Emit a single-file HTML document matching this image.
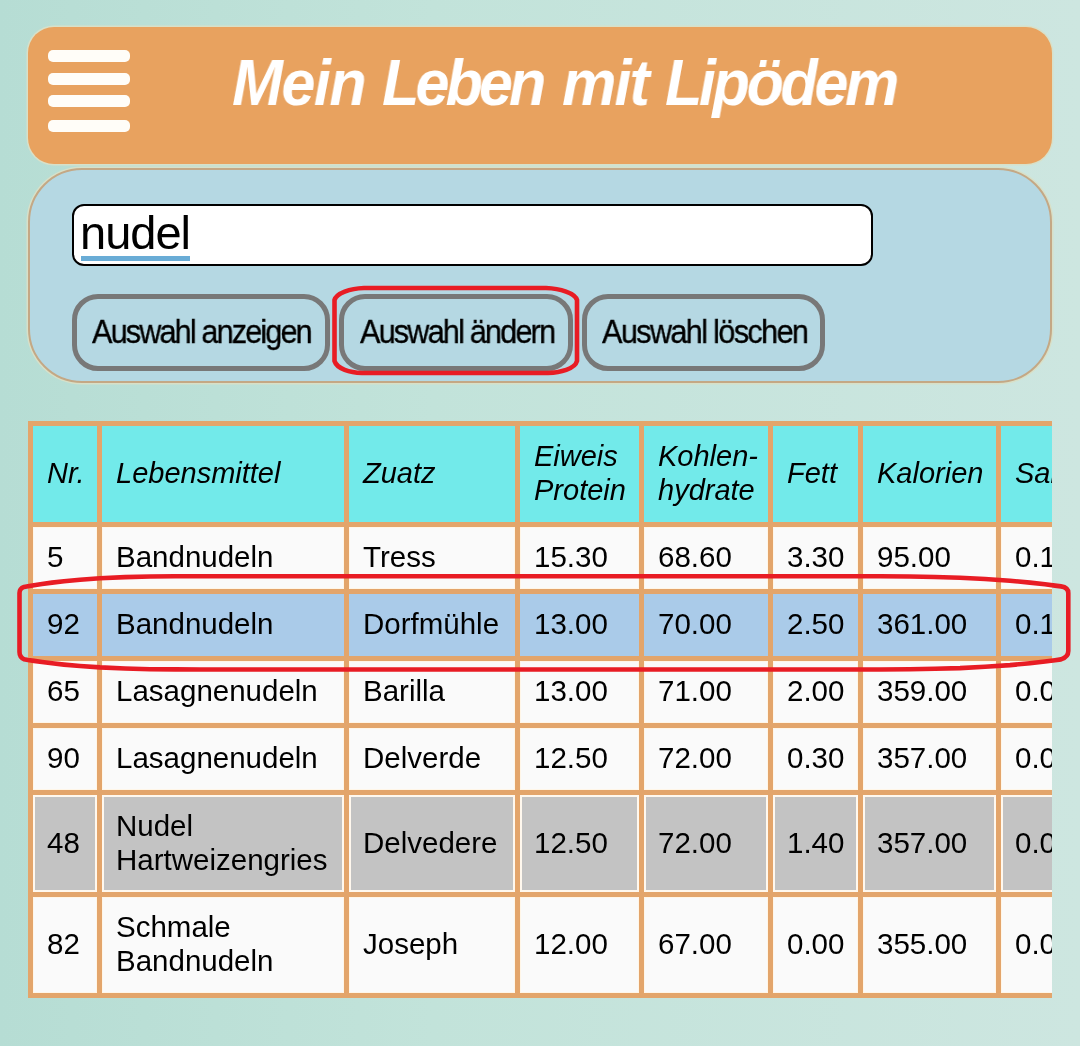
<!DOCTYPE html>
<html><head><meta charset="utf-8">
<style>
html,body{margin:0;padding:0;}
body{width:1080px;height:1046px;overflow:hidden;position:relative;
 background:linear-gradient(90deg,#b6ddd4 0%,#c2e3da 40%,#cde6e0 100%);
 font-family:"Liberation Sans",sans-serif;}
.abs{position:absolute;}
#hdr{left:28px;top:27px;width:1024px;height:137px;border-radius:26px;background:#e8a25f;box-shadow:0 0 0 1.5px #d8e0c8;}
.bar{position:absolute;left:20px;width:82px;height:12px;border-radius:5px;background:#fffdf8;}
.tw{position:absolute;top:33px;color:#fff;font-weight:bold;font-style:italic;font-size:65px;line-height:100px;white-space:nowrap;transform:scaleX(0.94);transform-origin:0 0;}
#panel{left:28px;top:168px;width:1020px;height:211px;border:2px solid #c4a885;border-radius:54px;background:#b5d8e3;box-shadow:0 0 0 1.5px #d8e0c8;}
#inp{left:72px;top:204px;width:797px;height:58px;border:2px solid #000;border-radius:12px;background:#fff;}
#nudel{position:absolute;left:80px;top:203px;font-size:47px;letter-spacing:-1px;line-height:60px;color:#000;white-space:nowrap;}
#ul{left:81px;top:256px;width:109px;height:5px;background:#69acd6;}
.btn{position:absolute;top:294px;height:67px;border:5px solid #787878;border-radius:26px;background:#b5d8e3;box-sizing:content-box;}
.btxt{position:absolute;top:306px;font-size:34px;line-height:50px;color:#000;white-space:nowrap;letter-spacing:-2.05px;transform:scaleX(0.9);transform-origin:0 0;-webkit-text-stroke:0.35px #000;}
#tbl{left:28px;top:421px;width:1024px;height:577px;background:#e3a56b;overflow:hidden;}
.c{position:absolute;padding-bottom:2px;background:#fafafa;box-sizing:border-box;padding-left:14px;font-size:29.5px;line-height:34px;color:#000;display:flex;align-items:center;white-space:nowrap;}
.w{box-shadow:inset 0 0 0 1px #fff6e8;}
.h{background:#72eaea;font-style:italic;font-size:29px;}
.sel{background:#aacbe9;}
.gr{background:#c3c3c3;border:2px solid #fff8ee;padding-left:12px;}
.c,.btxt,#nudel,.tw{will-change:transform;}
</style></head><body>
<div id="hdr" class="abs">
 <div class="bar" style="top:23px"></div>
 <div class="bar" style="top:45.5px"></div>
 <div class="bar" style="top:68px"></div>
 <div class="bar" style="top:93px"></div>
 </div>
<div class="tw" style="left:232px;letter-spacing:-1.6px">Mein</div>
<div class="tw" style="left:381.7px;letter-spacing:-4.15px">Leben</div>
<div class="tw" style="left:562px;letter-spacing:-2.05px">mit</div>
<div class="tw" style="left:664.7px;letter-spacing:-3.6px">Lipödem</div>
<div id="panel" class="abs"></div>
<div id="inp" class="abs"></div>
<div id="nudel">nudel</div>
<div id="ul" class="abs"></div>
<div class="btn" style="left:72px;width:248px;"></div>
<div class="btxt" style="left:92px;">Auswahl anzeigen</div>
<div class="btn" style="left:339px;width:224px;"></div>
<div class="btxt" style="left:360px;letter-spacing:-2px">Auswahl ändern</div>
<div class="btn" style="left:582px;width:233px;"></div>
<div class="btxt" style="left:602px;letter-spacing:-1.8px">Auswahl löschen</div>
<div id="tbl" class="abs">
<div class="c h" style="left:5px;top:5px;width:64px;height:96px">Nr.</div>
<div class="c h" style="left:74px;top:5px;width:242px;height:96px">Lebensmittel</div>
<div class="c h" style="left:321px;top:5px;width:166px;height:96px">Zuatz</div>
<div class="c h" style="left:492px;top:5px;width:119px;height:96px">Eiweis<br>Protein</div>
<div class="c h" style="left:616px;top:5px;width:124px;height:96px">Kohlen-<br>hydrate</div>
<div class="c h" style="left:745px;top:5px;width:85px;height:96px">Fett</div>
<div class="c h" style="left:835px;top:5px;width:133px;height:96px">Kalorien</div>
<div class="c h" style="left:973px;top:5px;width:199px;height:96px">Salz</div>
<div class="c w" style="left:5px;top:106px;width:64px;height:62px">5</div>
<div class="c w" style="left:74px;top:106px;width:242px;height:62px">Bandnudeln</div>
<div class="c w" style="left:321px;top:106px;width:166px;height:62px">Tress</div>
<div class="c w" style="left:492px;top:106px;width:119px;height:62px">15.30</div>
<div class="c w" style="left:616px;top:106px;width:124px;height:62px">68.60</div>
<div class="c w" style="left:745px;top:106px;width:85px;height:62px">3.30</div>
<div class="c w" style="left:835px;top:106px;width:133px;height:62px">95.00</div>
<div class="c w" style="left:973px;top:106px;width:199px;height:62px">0.10</div>
<div class="c sel" style="left:5px;top:173px;width:64px;height:62px">92</div>
<div class="c sel" style="left:74px;top:173px;width:242px;height:62px">Bandnudeln</div>
<div class="c sel" style="left:321px;top:173px;width:166px;height:62px">Dorfmühle</div>
<div class="c sel" style="left:492px;top:173px;width:119px;height:62px">13.00</div>
<div class="c sel" style="left:616px;top:173px;width:124px;height:62px">70.00</div>
<div class="c sel" style="left:745px;top:173px;width:85px;height:62px">2.50</div>
<div class="c sel" style="left:835px;top:173px;width:133px;height:62px">361.00</div>
<div class="c sel" style="left:973px;top:173px;width:199px;height:62px">0.10</div>
<div class="c w" style="left:5px;top:240px;width:64px;height:62px">65</div>
<div class="c w" style="left:74px;top:240px;width:242px;height:62px">Lasagnenudeln</div>
<div class="c w" style="left:321px;top:240px;width:166px;height:62px">Barilla</div>
<div class="c w" style="left:492px;top:240px;width:119px;height:62px">13.00</div>
<div class="c w" style="left:616px;top:240px;width:124px;height:62px">71.00</div>
<div class="c w" style="left:745px;top:240px;width:85px;height:62px">2.00</div>
<div class="c w" style="left:835px;top:240px;width:133px;height:62px">359.00</div>
<div class="c w" style="left:973px;top:240px;width:199px;height:62px">0.01</div>
<div class="c w" style="left:5px;top:307px;width:64px;height:62px">90</div>
<div class="c w" style="left:74px;top:307px;width:242px;height:62px">Lasagnenudeln</div>
<div class="c w" style="left:321px;top:307px;width:166px;height:62px">Delverde</div>
<div class="c w" style="left:492px;top:307px;width:119px;height:62px">12.50</div>
<div class="c w" style="left:616px;top:307px;width:124px;height:62px">72.00</div>
<div class="c w" style="left:745px;top:307px;width:85px;height:62px">0.30</div>
<div class="c w" style="left:835px;top:307px;width:133px;height:62px">357.00</div>
<div class="c w" style="left:973px;top:307px;width:199px;height:62px">0.01</div>
<div class="c gr" style="left:5px;top:374px;width:64px;height:97px">48</div>
<div class="c gr" style="left:74px;top:374px;width:242px;height:97px">Nudel<br>Hartweizengries</div>
<div class="c gr" style="left:321px;top:374px;width:166px;height:97px">Delvedere</div>
<div class="c gr" style="left:492px;top:374px;width:119px;height:97px">12.50</div>
<div class="c gr" style="left:616px;top:374px;width:124px;height:97px">72.00</div>
<div class="c gr" style="left:745px;top:374px;width:85px;height:97px">1.40</div>
<div class="c gr" style="left:835px;top:374px;width:133px;height:97px">357.00</div>
<div class="c gr" style="left:973px;top:374px;width:199px;height:97px">0.01</div>
<div class="c w" style="left:5px;top:476px;width:64px;height:96px">82</div>
<div class="c w" style="left:74px;top:476px;width:242px;height:96px">Schmale<br>Bandnudeln</div>
<div class="c w" style="left:321px;top:476px;width:166px;height:96px">Joseph</div>
<div class="c w" style="left:492px;top:476px;width:119px;height:96px">12.00</div>
<div class="c w" style="left:616px;top:476px;width:124px;height:96px">67.00</div>
<div class="c w" style="left:745px;top:476px;width:85px;height:96px">0.00</div>
<div class="c w" style="left:835px;top:476px;width:133px;height:96px">355.00</div>
<div class="c w" style="left:973px;top:476px;width:199px;height:96px">0.01</div>
</div>
<svg class="abs" style="left:0;top:0" width="1080" height="1046">
<g fill="none" stroke="#e81c24" stroke-width="4.6" stroke-linejoin="round">
<path d="M364 288 L546 288 C560 288.5 575 293 577 300 L577 361 C575 369 560 372.5 548 373 L362 373 C350 372.5 337 369 334.5 361 L334.5 300 C336.5 293 350 288.5 364 288 Z"/>
<path d="M19.5 652 L19.5 593 Q19.5 588.5 24 586.9 L28 586.2 L34 585.2 L42 584.0 L52 582.6 L64 581.2 L80 579.7 L100 578.2 L125 577.1 L150 576.5 L175 576.3 L200 576.3 L850 576.3 L880 576.3 L910 576.5 L935 577.0 L960 577.7 L985 579.0 L1010 580.7 L1030 582.6 L1045 584.3 L1055 585.6 L1061 586.4 Q1068.3 587.5 1068.3 593 L1068.3 651 Q1068.3 657 1061 659.4 L1055 660.2 L1045 661.5 L1030 663.2 L1010 665.1 L985 666.8 L960 668.1 L935 668.8 L910 669.3 L880 669.5 L850 669.5 L200 669.5 L175 669.4 L150 669.2 L125 668.5 L100 667.4 L80 666.0 L64 664.6 L52 663.3 L42 662.0 L34 660.9 L28 660.0 L24 659.3 Q19.5 657 19.5 652 Z"/>
</g>
</svg>
</body></html>
